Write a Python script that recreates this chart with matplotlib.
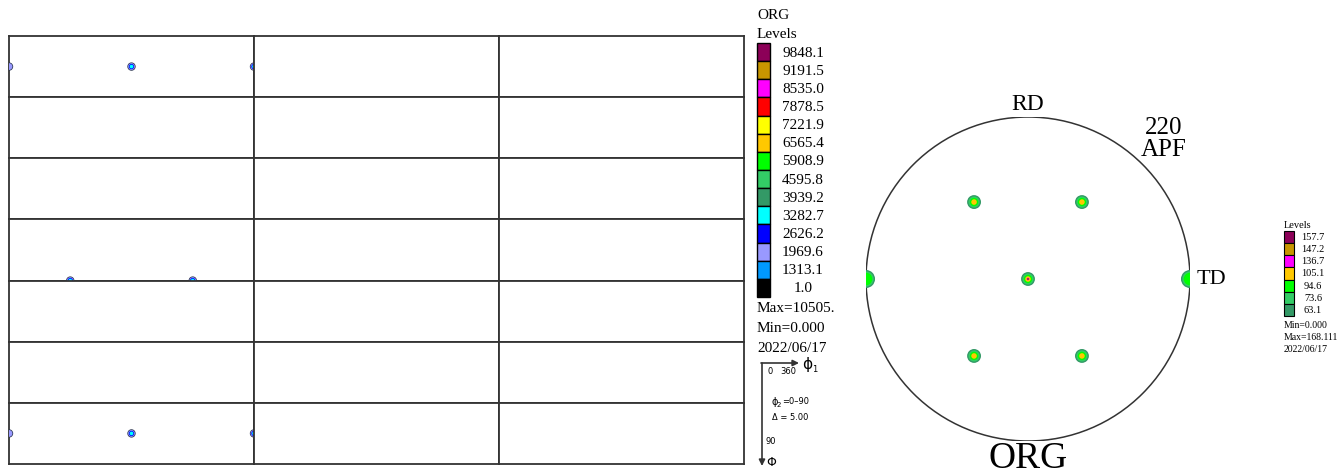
"""
ODF sections (phi2 = 0-90, step 5) next to the {220} pole figure, with the
level keys drawn in the style of the texture software output.
"""
import matplotlib.pyplot as plt
from matplotlib.patches import Circle

W, H = 1343, 474

# ODF level key (top to bottom)
odf_levels = [9848.1, 9191.5, 8535.0, 7878.5, 7221.9, 6565.4, 5908.9,
              4595.8, 3939.2, 3282.7, 2626.2, 1969.6, 1313.1, 1.0]
odf_colors = ["#8c0058", "#c89600", "#ff00ff", "#ff0000", "#ffff00",
              "#ffc800", "#00ff00", "#33cc66", "#339966", "#00ffff",
              "#0000ff", "#9999ff", "#0099ff", "#000000"]

# pole figure level key (top to bottom)
pf_levels = [157.7, 147.2, 136.7, 105.1, 94.6, 73.6, 63.1]
pf_colors = ["#8c0058", "#c89600", "#ff00ff", "#ffc800", "#00ff00",
             "#33cc66", "#339966"]

# ODF peaks: section phi2 (deg), phi1 (deg), Phi (deg), peak density
odf_phi2 = [0, 0, 0, 45, 45, 90, 90, 90]
odf_phi1 = [0, 180, 360, 90, 270, 0, 180, 360]
odf_Phi = [45, 45, 45, 90, 90, 45, 45, 45]
odf_peak = [2000, 3300, 7300, 3300, 3300, 2000, 3300, 7300]

# {220} poles in projected coordinates (unit circle) and peak density
pf_x = [-0.333, 0.333, 0.0, -0.333, 0.333, -1.0, 1.0]
pf_y = [0.475, 0.475, 0.0, -0.475, -0.475, 0.0, 0.0]
pf_peak = [110, 110, 168, 110, 110, 100, 100]

N_COLS, N_ROWS = 3, 7
PHI2_STEP = 5

fig = plt.figure(figsize=(W / 100, H / 100), dpi=100)
serif = "Liberation Serif"

# overlay in pixel coordinates for keys and labels
over = fig.add_axes([0, 0, 1, 1])
over.set_xlim(0, W)
over.set_ylim(H, 0)
over.axis("off")


def px_axes(x0, y0, x1, y1):
    return fig.add_axes([x0 / W, 1 - y1 / H, (x1 - x0) / W, (y1 - y0) / H])


def draw_peak(ax, x, y, peak, levels, colors, size0, step, z=3):
    # concentric contour rings, lowest level outermost
    k = 0
    for lvl, col in zip(reversed(levels), reversed(colors)):
        if lvl > peak:
            break
        s = max(size0 - k * step, 1.2)
        ax.scatter([x], [y], s=s ** 2, color=col, edgecolors="none",
                   zorder=z + k, clip_on=True)
        k += 1


# ---- ODF sections ----
gx0, gx1, gy0, gy1 = 9, 744, 36, 464
cw = (gx1 - gx0) / N_COLS
ch = (gy1 - gy0) / N_ROWS
sections = {}
for r in range(N_ROWS):
    for c in range(N_COLS):
        ax = px_axes(gx0 + c * cw, gy0 + r * ch,
                     gx0 + (c + 1) * cw, gy0 + (r + 1) * ch)
        ax.set_xlim(0, 360)
        ax.set_ylim(90, 0)
        ax.set_xticks([])
        ax.set_yticks([])
        for sp in ax.spines.values():
            sp.set_color("#333333")
            sp.set_linewidth(1.3)
        sections[(r * N_COLS + c) * PHI2_STEP] = ax

odf_draw_levels = odf_levels[:-1]
odf_draw_colors = ["#2a3550" if c == "#000000" else c for c in odf_colors[:-1]]
odf_draw_colors[-1] = "#2a3550"
for p2, p1, P, pk in zip(odf_phi2, odf_phi1, odf_Phi, odf_peak):
    draw_peak(sections[p2], p1, P, pk, odf_draw_levels, odf_draw_colors,
              6.0, 1.1)

# ---- ODF key ----
bx0, bx1, by0 = 757, 770, 43
bh = (297 - by0) / len(odf_levels)
for i, (lvl, col) in enumerate(zip(odf_levels, odf_colors)):
    y = by0 + i * bh
    over.bar(bx0, bh, width=bx1 - bx0, bottom=y, align="edge", color=col,
             edgecolor="black", linewidth=1)
    over.text(803, y + bh / 2 + 1, f"{lvl:.1f}", ha="center", va="center",
              fontsize=11, family=serif)
over.text(757, 15, "ORG", ha="left", va="center", fontsize=11, family=serif)
over.text(757, 34, "Levels", ha="left", va="center", fontsize=11, family=serif)
over.text(757, 308, "Max=10505.", ha="left", va="center", fontsize=11,
          family=serif)
over.text(757, 328, "Min=0.000", ha="left", va="center", fontsize=11,
          family=serif)
over.text(757, 348, "2022/06/17", ha="left", va="center", fontsize=11,
          family=serif)

# axis convention sketch
ox, oy = 762, 363
over.annotate("", xy=(799, oy), xytext=(ox - 1, oy),
              arrowprops=dict(arrowstyle="-|>", color="#333333", lw=1.2,
                              mutation_scale=9, shrinkA=0, shrinkB=0))
over.annotate("", xy=(ox, 466), xytext=(ox, oy),
              arrowprops=dict(arrowstyle="-|>", color="#333333", lw=1.2,
                              mutation_scale=9, shrinkA=0, shrinkB=0))
small = dict(fontsize=6, family="DejaVu Sans", va="center")
over.text(767, 372, "0", ha="left", **small)
over.text(780, 372, "360", ha="left", **small)
over.text(802, 365, "ϕ", ha="left", fontsize=11, family="DejaVu Sans",
          va="center")
over.text(812, 370, "1", ha="left", **small)
over.text(771, 402, "ϕ", ha="left", fontsize=7, family="DejaVu Sans",
          va="center")
over.text(777, 405, "2", ha="left", fontsize=5, family="DejaVu Sans",
          va="center")
over.text(782, 401, "=0–90", ha="left", **small)
over.text(772, 417, "Δ = 5.00", ha="left", **small)
over.text(765, 441, "90", ha="left", **small)
over.text(766, 462, "Φ", ha="left", fontsize=9, family="DejaVu Sans",
          va="center")

# ---- pole figure ----
cx, cy, rad = 1028, 279, 162
pf = px_axes(cx - rad, cy - rad, cx + rad, cy + rad)
pf.set_xlim(-1, 1)
pf.set_ylim(-1, 1)
pf.axis("off")
pf.add_patch(Circle((0, 0), 1, fill=False, edgecolor="#333333", lw=1.1,
                    zorder=2))
for x, y, pk in zip(pf_x, pf_y, pf_peak):
    size0 = 13 if abs(x) >= 1 else 10
    draw_peak(pf, x, y, pk, pf_levels, pf_colors, size0, 2.0, z=5)

over.text(1028, 104, "RD", ha="center", va="center", fontsize=17,
          family=serif)
over.text(1164, 128, "220", ha="center", va="center", fontsize=18,
          family=serif)
over.text(1164, 150, "APF", ha="center", va="center", fontsize=18,
          family=serif)
over.text(1197, 280, "TD", ha="left", va="center", fontsize=16, family=serif)
over.text(1028, 459, "ORG", ha="center", va="center", fontsize=27,
          family=serif)

# ---- pole figure key ----
kx0, kx1, ky0 = 1284, 1294, 231
kh = (316 - ky0) / len(pf_levels)
for i, (lvl, col) in enumerate(zip(pf_levels, pf_colors)):
    y = ky0 + i * kh
    over.bar(kx0, kh, width=kx1 - kx0, bottom=y, align="edge", color=col,
             edgecolor="black", linewidth=0.8)
    over.text(1313, y + kh / 2 + 0.5, f"{lvl:.1f}", ha="center", va="center",
              fontsize=7.5, family=serif)
over.text(1284, 225, "Levels", ha="left", va="center", fontsize=7.5,
          family=serif)
over.text(1284, 326, "Min=0.000", ha="left", va="center", fontsize=7,
          family=serif)
over.text(1284, 338, "Max=168.111", ha="left", va="center", fontsize=7,
          family=serif)
over.text(1284, 350, "2022/06/17", ha="left", va="center", fontsize=7,
          family=serif)

fig.savefig("out.png", dpi=100)
